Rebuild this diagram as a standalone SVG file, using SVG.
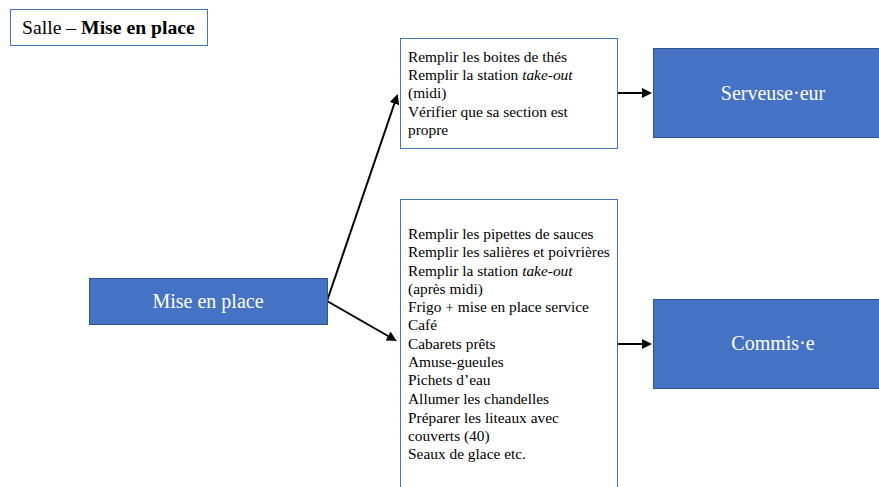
<svg xmlns="http://www.w3.org/2000/svg" width="879" height="487" viewBox="0 0 879 487">
<style>
.t{font-family:"Liberation Serif","Times New Roman",serif;fill:#000;font-size:15.4px}
.w{font-family:"Liberation Serif","Times New Roman",serif;fill:#fff;font-size:20px;text-anchor:middle}
.blue{fill:#4472C4;stroke:#2F528F;stroke-width:1}
.box{fill:#fff;stroke:#4472C4;stroke-width:1}
.c{stroke:#000;stroke-width:2;fill:none;marker-end:url(#a)}
</style>
<defs>
<marker id="a" markerWidth="5" markerHeight="5" refX="4" refY="2.5" orient="auto" markerUnits="strokeWidth">
<path d="M0,0 L5,2.5 L0,5 Z" fill="#000"/>
</marker>
</defs>
<rect width="879" height="487" fill="#fff"/>
<g id="title">
<rect class="box" x="10.5" y="9.5" width="197" height="36"/>
<text class="t" x="22" y="34" style="font-size:19.7px">Salle – <tspan font-weight="bold">Mise en place</tspan></text>
</g>
<g id="connectors">
<line class="c" x1="327" y1="301" x2="397" y2="96"/>
<line class="c" x1="327" y1="301" x2="395" y2="340"/>
<line class="c" x1="617" y1="93" x2="650" y2="93"/>
<line class="c" x1="617" y1="344" x2="650" y2="344"/>
</g>
<g id="mise">
<rect class="blue" x="89.5" y="278.5" width="238" height="46"/>
<text class="w" x="208" y="308">Mise en place</text>
</g>
<g id="top-tasks">
<rect class="box" x="400.5" y="38.5" width="217" height="110"/>
<text class="t" x="408" y="62">Remplir les boites de thés</text>
<text class="t" x="408" y="80">Remplir la station <tspan font-style="italic">take-out</tspan></text>
<text class="t" x="408" y="98">(midi)</text>
<text class="t" x="408" y="117">Vérifier que sa section est</text>
<text class="t" x="408" y="135">propre</text>
</g>
<g id="bottom-tasks">
<rect class="box" x="400.5" y="199.5" width="217" height="300"/>
<text class="t" x="408" y="239">Remplir les pipettes de sauces</text>
<text class="t" x="408" y="257">Remplir les salières et poivrières</text>
<text class="t" x="408" y="276">Remplir la station <tspan font-style="italic">take-out</tspan></text>
<text class="t" x="408" y="294">(après midi)</text>
<text class="t" x="408" y="312">Frigo + mise en place service</text>
<text class="t" x="408" y="330">Café</text>
<text class="t" x="408" y="349">Cabarets prêts</text>
<text class="t" x="408" y="367">Amuse-gueules</text>
<text class="t" x="408" y="385">Pichets d’eau</text>
<text class="t" x="408" y="404">Allumer les chandelles</text>
<text class="t" x="408" y="423">Préparer les liteaux avec</text>
<text class="t" x="408" y="441">couverts (40)</text>
<text class="t" x="408" y="459">Seaux de glace etc.</text>
</g>
<g id="serveuse">
<rect class="blue" x="653.5" y="48.5" width="240" height="89"/>
<text class="w" x="773" y="100">Serveuse·eur</text>
</g>
<g id="commis">
<rect class="blue" x="653.5" y="299.5" width="240" height="89"/>
<text class="w" x="773" y="350">Commis·e</text>
</g>
</svg>
